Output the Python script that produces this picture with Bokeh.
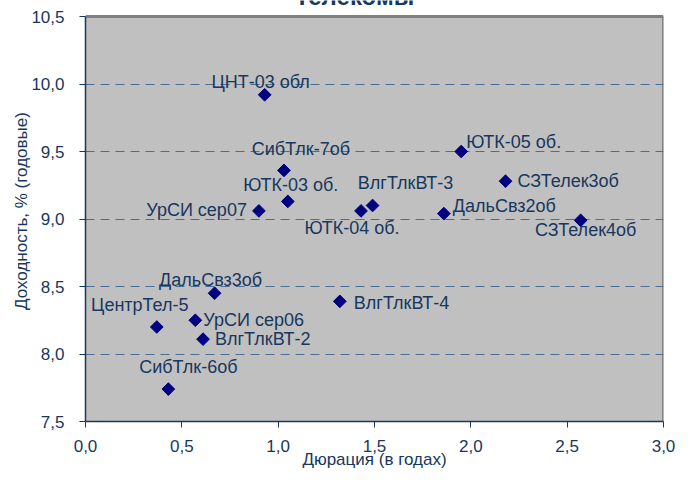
import math
from bokeh.plotting import figure
from bokeh.models import (ColumnDataSource, CustomJSTickFormatter, FixedTicker, Range1d,
                          LabelSet)
from bokeh.core.properties import value
from bokeh.embed import file_html
from bokeh.resources import INLINE

# ---- data ----
names = ["ЦНТ-03 обл", "СибТлк-7об", "ЮТК-03 об.", "УрСИ сер07", "ЮТК-04 об.",
         "ВлгТлкВТ-3", "ДальСвз2об", "ЮТК-05 об.", "СЗТелек3об", "СЗТелек4об",
         "ДальСвз3об", "ЦентрТел-5", "УрСИ сер06", "ВлгТлкВТ-2", "ВлгТлкВТ-4",
         "СибТлк-6об"]
duration = [0.93, 1.03, 1.05, 0.90, 1.43, 1.49, 1.86, 1.95, 2.18, 2.57,
            0.67, 0.37, 0.57, 0.61, 1.32, 0.43]
yield_pct = [9.92, 9.36, 9.13, 9.06, 9.06, 9.10, 9.04, 9.50, 9.28, 8.99,
             8.45, 8.20, 8.25, 8.11, 8.39, 7.74]
x_ticks = [0.0, 0.5, 1.0, 1.5, 2.0, 2.5, 3.0]
y_ticks = [7.5, 8.0, 8.5, 9.0, 9.5, 10.0, 10.5]
title_text = "Телекомы"
x_label = "Дюрация (в годах)"
y_label = "Доходность, % (годовые)"

# ---- label placement (pixel offsets, styling only) ----
label_layout = {
    "ЦНТ-03 обл": (-4, 13, "center"),
    "СибТлк-7об": (17, 21, "center"),
    "ЮТК-03 об.": (3, 16, "center"),
    "УрСИ сер07": (-12, 1, "right"),
    "ЮТК-04 об.": (-9, -17, "center"),
    "ВлгТлкВТ-3": (33, 23, "center"),
    "ДальСвз2об": (9, 8, "left"),
    "ЮТК-05 об.": (5, 10, "left"),
    "СЗТелек3об": (12, 0, "left"),
    "СЗТелек4об": (5, -10, "center"),
    "ДальСвз3об": (-4, 13, "center"),
    "ЦентрТел-5": (-17, 22, "center"),
    "УрСИ сер06": (8, 0, "left"),
    "ВлгТлкВТ-2": (12, 0, "left"),
    "ВлгТлкВТ-4": (14, -2, "left"),
    "СибТлк-6об": (20, 22, "center"),
}

NAVY = "#17375E"
FONT = "Liberation Sans"
PLOT_H = 405      # pixel height of the grey plot area
TOP_PAD = 16      # white strip above it, where the clipped chart title sits

y_lo, y_hi = y_ticks[0], y_ticks[-1]
y_top = y_hi + TOP_PAD * (y_hi - y_lo) / PLOT_H

p = figure(width=677, height=474, output_backend="svg", toolbar_location=None,
           x_range=Range1d(x_ticks[0], x_ticks[-1]), y_range=Range1d(y_lo, y_top),
           min_border_left=85, min_border_right=14, min_border_top=0,
           min_border_bottom=53, background_fill_color="white",
           border_fill_color="white")
p.outline_line_color = None

# grey plot area
p.quad(left=[x_ticks[0]], right=[x_ticks[-1]], bottom=[y_lo], top=[y_hi],
       fill_color="#C0C0C0", line_color=None, level="image")
# grey frame edges (top and right)
p.segment(x0=[x_ticks[0], x_ticks[-1]], y0=[y_hi, y_lo],
          x1=[x_ticks[-1], x_ticks[-1]], y1=[y_hi, y_hi],
          line_color="#808080", line_width=3, level="underlay")

# axes
for ax in (p.xaxis, p.yaxis):
    ax.axis_line_color = NAVY
    ax.axis_line_width = 1.5
    ax.major_tick_line_color = NAVY
    ax.major_tick_in = 0
    ax.major_tick_out = 6
    ax.minor_tick_line_color = None
    ax.major_label_text_font = FONT
    ax.major_label_text_font_size = "17px"
    ax.major_label_text_color = NAVY
    ax.axis_label_text_font = FONT
    ax.axis_label_text_font_size = "17px"
    ax.axis_label_text_font_style = "normal"
    ax.axis_label_text_color = NAVY
    ax.formatter = CustomJSTickFormatter(code="return tick.toFixed(1).replace('.', ',');")

p.xaxis.ticker = FixedTicker(ticks=x_ticks)
p.yaxis.ticker = FixedTicker(ticks=y_ticks)
p.yaxis.bounds = (y_lo, y_hi)
p.xaxis.axis_label = x_label
p.yaxis.axis_label = y_label
p.xaxis.major_label_standoff = 12
p.xaxis.axis_label_standoff = -5
p.yaxis.major_label_standoff = 15
p.yaxis.axis_label_standoff = -3

p.xgrid.grid_line_color = None
p.ygrid.ticker = FixedTicker(ticks=y_ticks[1:-1])
p.ygrid.grid_line_color = "#4A6E96"
p.ygrid.grid_line_dash = "9 6"
p.ygrid.grid_line_width = 1

xo = [label_layout[n][0] for n in names]
yo = [label_layout[n][1] for n in names]
al = [label_layout[n][2] for n in names]
src = ColumnDataSource(dict(x=duration, y=yield_pct, name=names, xo=xo, yo=yo, al=al))

p.scatter("x", "y", source=src, marker="square", size=9, angle=math.pi / 4,
          fill_color="#000080", line_color="#000080")

labels = LabelSet(x="x", y="y", text="name", source=src, x_offset="xo", y_offset="yo",
                  text_align="al", text_baseline="middle", text_font=value(FONT),
                  text_font_size="18px", text_color=NAVY)
p.add_layout(labels)

# chart title, mostly cut off at the top edge as in the reference
p.text(x=[(x_ticks[0] + x_ticks[-1]) / 2], y=[y_hi], text=[title_text],
       x_offset=-20, y_offset=-20, text_align="center", text_baseline="alphabetic",
       text_font=value(FONT), text_font_size="24px", text_font_style="bold",
       text_color=NAVY)

html = file_html(p, INLINE)
open("out.html", "w").write(html)
